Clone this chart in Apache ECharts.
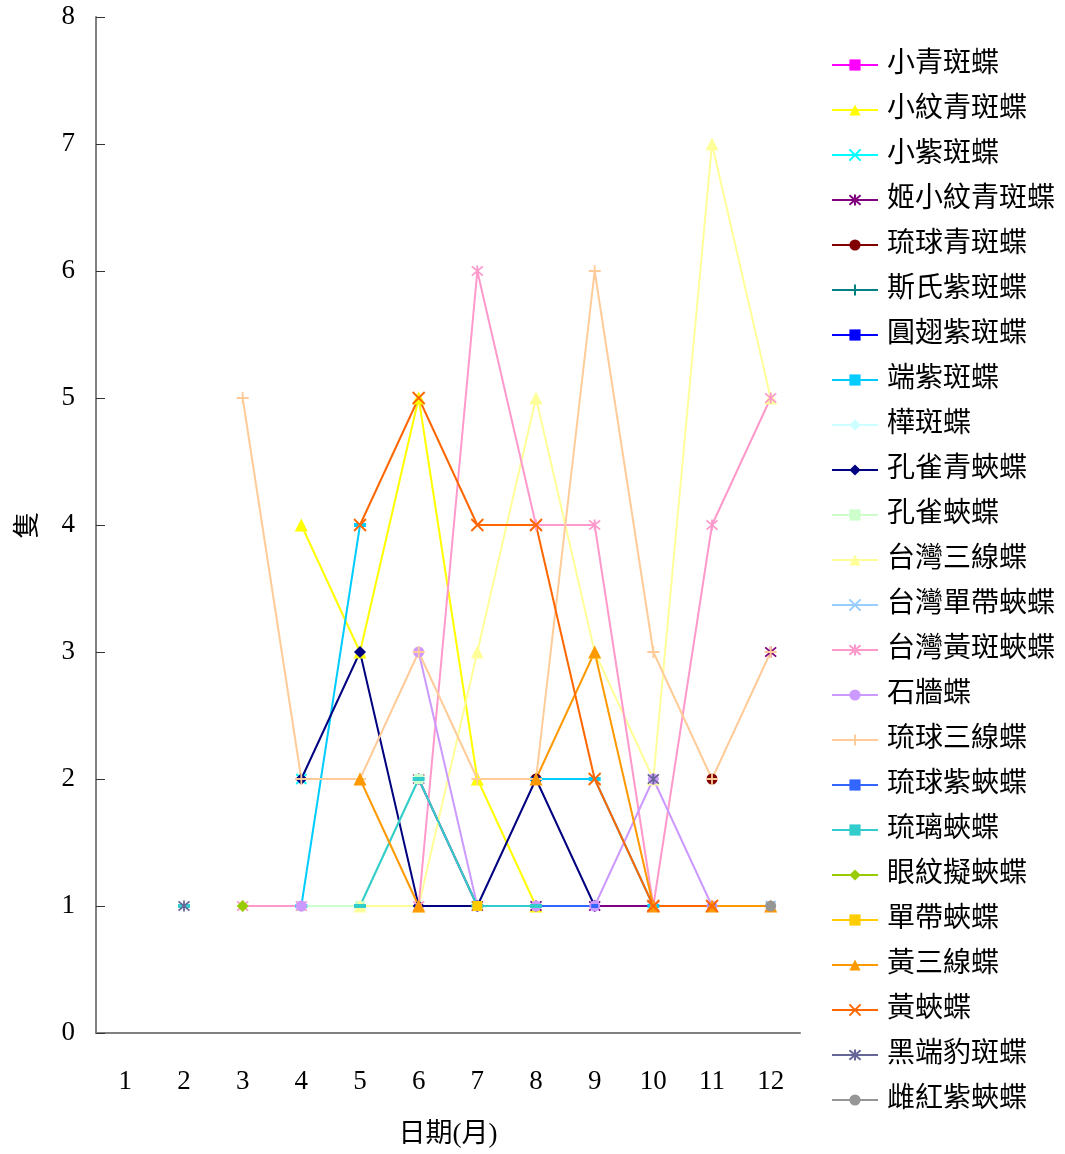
<!DOCTYPE html>
<html>
<head>
<meta charset="utf-8">
<script src="https://cdn.jsdelivr.net/npm/echarts@6/dist/echarts.min.js"></script>
<style>
  html, body { margin: 0; padding: 0; background: #fff; }
  #chart { width: 1065px; height: 1154px; }
</style>
</head>
<body>
<div id="chart"></div>
<script>
// 月份
var months = ["1", "2", "3", "4", "5", "6", "7", "8", "9", "10", "11", "12"];
var yTicks = [0, 1, 2, 3, 4, 5, 6, 7, 8];
var n = null;

// 每種蝴蝶每月隻數 (null = 沒有記錄)
var s01 = [n, n, n, n, n, n, n, n, n, n, n, n]; // 小青斑蝶
var s02 = [n, n, n, 4, 3, 5, 2, 1, n, n, n, n]; // 小紋青斑蝶
var s03 = [n, n, n, 2, n, n, n, n, n, n, n, n]; // 小紫斑蝶
var s04 = [n, n, n, n, n, 2, 1, 1, 1, 1, n, 3]; // 姬小紋青斑蝶
var s05 = [n, n, n, n, n, n, n, 2, n, n, 2, n]; // 琉球青斑蝶
var s06 = [n, n, n, n, n, n, n, n, n, n, n, n]; // 斯氏紫斑蝶
var s07 = [n, n, n, n, n, n, n, n, n, n, n, n]; // 圓翅紫斑蝶
var s08 = [n, n, n, 1, 4, n, n, 2, 2, 1, n, n]; // 端紫斑蝶
var s09 = [n, n, n, n, n, n, n, n, n, n, n, n]; // 樺斑蝶
var s10 = [n, n, n, 2, 3, 1, 1, 2, 1, n, n, n]; // 孔雀青蛺蝶
var s11 = [n, n, n, 1, 1, 2, n, n, n, n, n, n]; // 孔雀蛺蝶
var s12 = [n, n, n, n, 1, 1, 3, 5, 3, 2, 7, 5]; // 台灣三線蝶
var s13 = [n, n, n, n, n, n, n, n, n, n, n, 1]; // 台灣單帶蛺蝶
var s14 = [n, n, 1, 1, n, 1, 6, 4, 4, 1, 4, 5]; // 台灣黃斑蛺蝶
var s15 = [n, n, n, 1, n, 3, 1, 1, 1, 2, 1, n]; // 石牆蝶
var s16 = [n, n, 5, 2, 2, 3, 2, 2, 6, 3, 2, 3]; // 琉球三線蝶
var s17 = [n, n, n, n, n, n, n, 1, 1, n, 1, n]; // 琉球紫蛺蝶
var s18 = [n, 1, n, n, 1, 2, 1, 1, n, n, n, n]; // 琉璃蛺蝶
var s19 = [n, n, 1, n, n, n, n, n, n, n, n, n]; // 眼紋擬蛺蝶
var s20 = [n, n, n, n, n, n, 1, n, n, n, n, n]; // 單帶蛺蝶
var s21 = [n, n, n, n, 2, 1, n, 2, 3, 1, 1, 1]; // 黃三線蝶
var s22 = [n, n, n, n, 4, 5, 4, 4, 2, 1, 1, n]; // 黃蛺蝶
var s23 = [n, 1, n, n, n, n, n, n, n, 2, n, n]; // 黑端豹斑蝶
var s24 = [n, n, n, n, n, n, n, n, n, n, n, 1]; // 雌紅紫蛺蝶

var names = ["小青斑蝶", "小紋青斑蝶", "小紫斑蝶", "姬小紋青斑蝶", "琉球青斑蝶", "斯氏紫斑蝶",
  "圓翅紫斑蝶", "端紫斑蝶", "樺斑蝶", "孔雀青蛺蝶", "孔雀蛺蝶", "台灣三線蝶",
  "台灣單帶蛺蝶", "台灣黃斑蛺蝶", "石牆蝶", "琉球三線蝶", "琉球紫蛺蝶", "琉璃蛺蝶",
  "眼紋擬蛺蝶", "單帶蛺蝶", "黃三線蝶", "黃蛺蝶", "黑端豹斑蝶", "雌紅紫蛺蝶"];
var values = [s01, s02, s03, s04, s05, s06, s07, s08, s09, s10, s11, s12,
  s13, s14, s15, s16, s17, s18, s19, s20, s21, s22, s23, s24];
var colors = ["#FF00FF", "#FFFF00", "#00FFFF", "#800080", "#800000", "#008080",
  "#0000FF", "#00CCFF", "#CCFFFF", "#000080", "#CCFFCC", "#FFFF99",
  "#99CCFF", "#FF99CC", "#CC99FF", "#FFCC99", "#3366FF", "#33CCCC",
  "#99CC00", "#FFCC00", "#FF9900", "#FF6600", "#666699", "#969696"];

var X = "path://M0,0L10,10M0,10L10,0";
var STAR = "path://M0,0L10,10M0,10L10,0M5,-1L5,11";
var PLUS = "path://M5,0L5,10M0,5L10,5";
var markers = [
  ["rect", 10], ["triangle", 13], [X, 10], [STAR, 11], ["circle", 11], [PLUS, 12],
  ["rect", [7, 4]], ["rect", [12, 4]], ["diamond", 12], ["diamond", 12], ["rect", 10], ["triangle", 13],
  [X, 10], [STAR, 11], ["circle", 11], [PLUS, 12], ["rect", [7, 4]], ["rect", [12, 4]],
  ["diamond", 12], ["rect", 10], ["triangle", 13], [X, 12], [STAR, 11], ["circle", 11]
];

var serif = "'Liberation Serif', 'Noto Sans CJK TC', serif";

var series = [];
for (var i = 0; i < names.length; i++) {
  var isPath = markers[i][0].indexOf("path://") === 0;
  series.push({
    name: names[i],
    type: "line",
    data: values[i],
    symbol: markers[i][0],
    symbolSize: markers[i][1],
    showAllSymbol: true,
    connectNulls: false,
    lineStyle: { color: colors[i], width: 2 },
    itemStyle: {
      color: colors[i],
      borderColor: colors[i],
      borderWidth: isPath ? 1.8 : 0
    }
  });
}

var option = {
  animation: false,
  color: colors,
  grid: { left: 96, right: 265, top: 17, bottom: 121 },
  legend: {
    orient: "vertical",
    left: 831,
    top: 51,
    padding: 0,
    itemWidth: 46,
    itemHeight: 14,
    itemGap: 17,
    textStyle: { fontSize: 28, lineHeight: 28, color: "#000", fontFamily: serif, padding: [0, 0, 0, 4] },
    data: names
  },
  xAxis: {
    type: "category",
    data: months,
    name: "日期(月)",
    nameLocation: "middle",
    nameGap: 88,
    nameTextStyle: { fontSize: 27, color: "#000", fontFamily: serif },
    axisLine: { lineStyle: { color: "#808080", width: 2 } },
    axisTick: { inside: true, length: 8, lineStyle: { color: "#333", width: 1 } },
    axisLabel: { fontSize: 27, color: "#000", fontFamily: serif, margin: 35 },
    splitLine: { show: false }
  },
  yAxis: {
    type: "value",
    min: yTicks[0],
    max: yTicks[yTicks.length - 1],
    interval: 1,
    name: "隻",
    nameLocation: "middle",
    nameGap: 54,
    nameRotate: 90,
    nameTextStyle: { fontSize: 27, color: "#000", fontFamily: serif },
    axisLine: { show: true, lineStyle: { color: "#808080", width: 2 } },
    axisTick: { show: true, inside: true, length: 9, lineStyle: { color: "#333", width: 1 } },
    axisLabel: { fontSize: 27, color: "#000", fontFamily: serif, margin: 21 },
    splitLine: { show: false }
  },
  series: series
};

var myChart = echarts.init(document.getElementById("chart"));
myChart.setOption(option, true);
</script>
</body>
</html>
